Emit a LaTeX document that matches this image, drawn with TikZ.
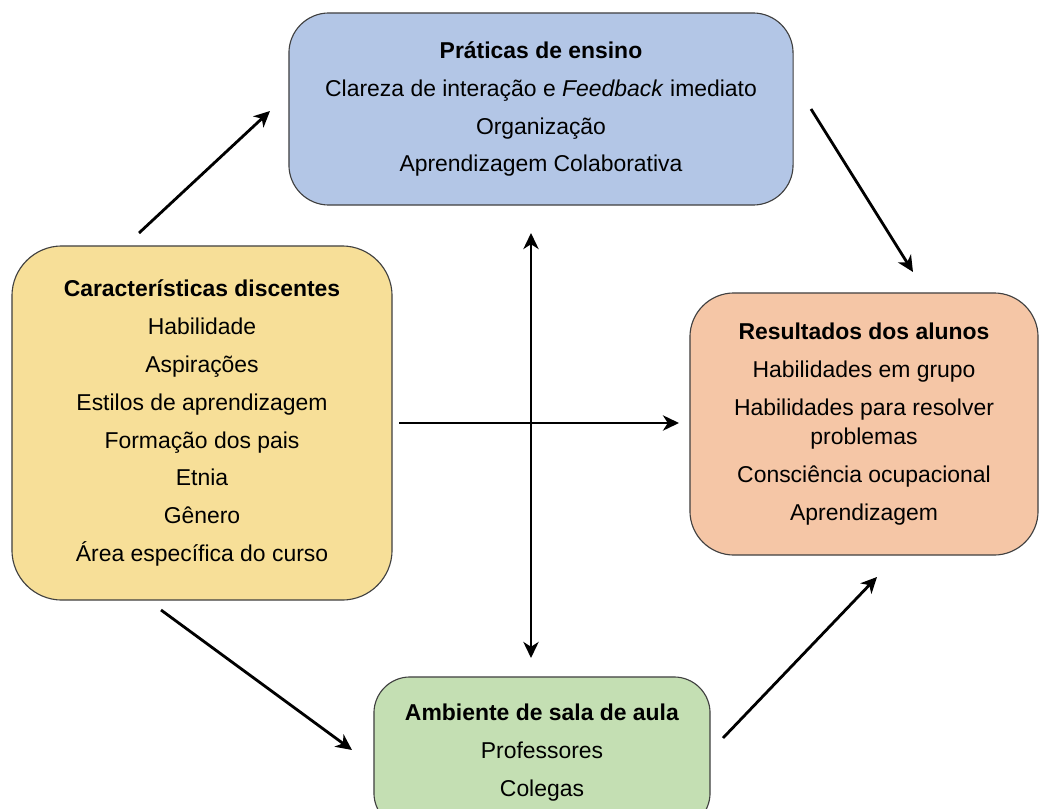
\documentclass[tikz,border=0pt]{standalone}
\usepackage{fontspec}
\setmainfont{Liberation Sans}
\usepackage{tikz}
\usetikzlibrary{arrows.meta}
\usetikzlibrary{positioning}
\usepackage{xcolor}
\definecolor{boxblue}{HTML}{B3C6E6}
\definecolor{boxyellow}{HTML}{F7DF98}
\definecolor{boxpeach}{HTML}{F5C6A6}
\definecolor{boxgreen}{HTML}{C4DFB3}
\tikzset{
    block/.style={
        draw=black!75,
        line width=0.8pt,
        rounded corners=1cm,
        align=center,
        inner sep=0pt,
        font=\fontsize{16.3}{27}\selectfont
    },
    link/.style={
        draw,
        -{Stealth[length=4mm, width=3.8mm, inset=1.2mm]},
        line width=2pt
    }
}

\begin{document}
\begin{tikzpicture}[x=0.025cm, y=-0.025cm]
  % Page frame
  \clip (0,0) rectangle (1040,809);
  \fill[white] (0,0) rectangle (1040,809);

  % Boxes
  \node[block, fill=boxblue, minimum width=12.6cm, minimum height=4.8cm] (praticas) at (541,109)
    {\textbf{Práticas de ensino}\\Clareza de interação e \textit{Feedback} imediato\\Organização\\Aprendizagem Colaborativa};
  \node[block, fill=boxyellow, rounded corners=1.25cm, minimum width=9.5cm, minimum height=8.85cm] (discentes) at (202,423)
    {\textbf{Características discentes}\\Habilidade\\Aspirações\\Estilos de aprendizagem\\Formação dos pais\\Etnia\\Gênero\\Área específica do curso};
  \node[block, fill=boxpeach, rounded corners=1.1cm, minimum width=8.7cm, minimum height=6.55cm] (resultados) at (864,424)
    {\textbf{Resultados dos alunos}\\Habilidades em grupo\\Habilidades para resolver\\[-6.5pt]problemas\\Consciência ocupacional\\Aprendizagem};
  \node[block, fill=boxgreen, rounded corners=0.9cm, minimum width=8.4cm, minimum height=3.8cm] (ambiente) at (542,753)
    {\textbf{Ambiente de sala de aula}\\Professores\\Colegas};

  % Arrow ends
  \coordinate (d1) at (139,233);  \coordinate (p1) at (270,111);
  \coordinate (p2) at (811,109);  \coordinate (r1) at (913,272);
  \coordinate (d2) at (161,610);  \coordinate (a1) at (352,750);
  \coordinate (a2) at (723,738);  \coordinate (r2) at (877,577);
  \coordinate (vtop) at (531,233); \coordinate (vbot) at (531,658);
  \coordinate (hl) at (399,423);  \coordinate (hr) at (679,423);

  % Connectors
  \draw[link] (d1) -- (p1);
  \draw[link] (p2) -- (r1);
  \draw[link] (d2) -- (a1);
  \draw[link] (a2) -- (r2);
  \draw[link, {Stealth[length=4mm, width=3.8mm, inset=1.2mm]}-{Stealth[length=4mm, width=3.8mm, inset=1.2mm]}] (vtop) -- (vbot);
  \draw[link] (hl) -- (hr);
\end{tikzpicture}
\end{document}
